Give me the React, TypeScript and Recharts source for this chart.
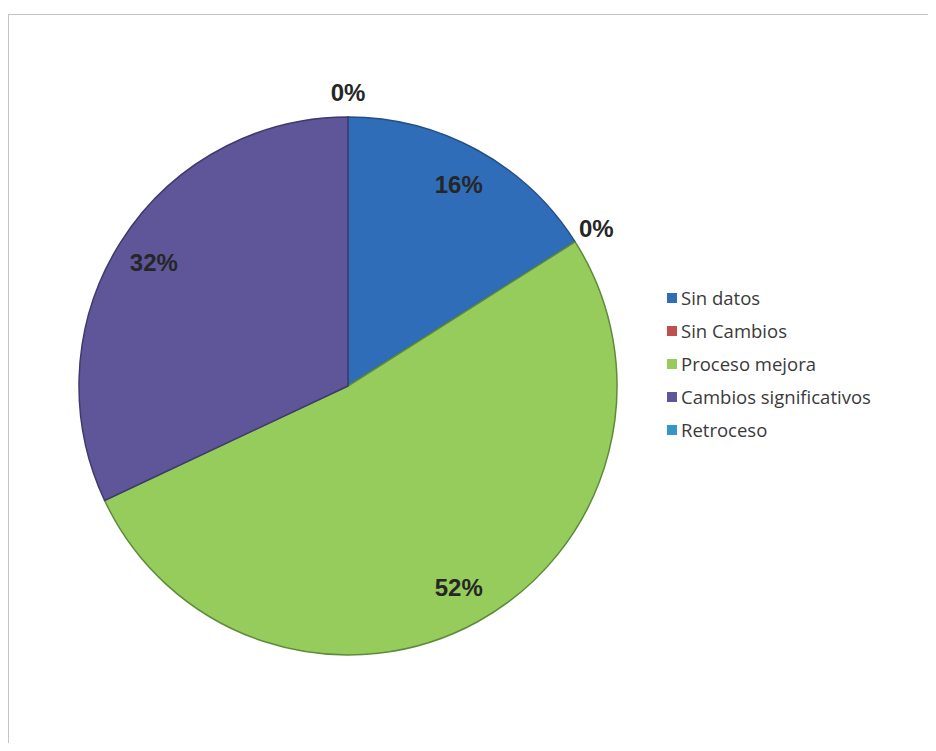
import React from "react";
import { PieChart, Pie, Cell, Legend } from "recharts";

const categories = [
  "Sin datos",
  "Sin Cambios",
  "Proceso mejora",
  "Cambios significativos",
  "Retroceso",
];
const counts = [4, 0, 13, 8, 0];
const COLORS = ["#2f6db8", "#c0504d", "#95cc5c", "#5e5699", "#3597c4"];
const STROKES = ["#244f85", "#8c3431", "#5f8a3a", "#3f3a6e", "#256c8e"];

const pieData = categories.map((name, i) => ({ name, value: counts[i] }));

const RADIAN = Math.PI / 180;

const renderLabel = (props: any) => {
  const { cx, cy, midAngle, outerRadius, percent, value } = props;
  const r = value === 0 ? outerRadius + 25 : outerRadius * 0.855;
  const x = cx + r * Math.cos(-midAngle * RADIAN);
  const y = cy + r * Math.sin(-midAngle * RADIAN);
  return (
    <text
      x={x}
      y={y}
      fill="#262626"
      textAnchor="middle"
      dominantBaseline="central"
      fontFamily="'Liberation Sans', Arial, sans-serif"
      fontWeight="bold"
      fontSize={24}
    >
      {`${Math.round(percent * 100)}%`}
    </text>
  );
};

const renderLegend = (props: any) => {
  // keep the legend in the data order
  const payload = [...(props.payload || [])].sort(
    (a: any, b: any) => categories.indexOf(a.value) - categories.indexOf(b.value)
  );
  return (
    <ul style={{ listStyle: "none", margin: 0, padding: 0 }}>
      {payload.map((entry: any, index: number) => (
        <li
          key={`item-${index}`}
          style={{
            display: "flex",
            alignItems: "center",
            height: 33,
            fontFamily: "'Open Sans', sans-serif",
            fontSize: 18.5,
            color: "#3a3a3a",
          }}
        >
          <span
            style={{
              display: "inline-block",
              width: 10,
              height: 10,
              background: entry.color,
              marginRight: 4,
            }}
          />
          {entry.value}
        </li>
      ))}
    </ul>
  );
};

const App: React.FC = () => {
  return (
    <div
      style={{
        marginTop: 6,
        width: 920,
        height: 728,
        borderTop: "1px solid #c4c4c4",
        borderLeft: "1px solid #c4c4c4",
        background: "#fff",
      }}
    >
      <PieChart width={919} height={727}>
        <Pie
          data={pieData}
          dataKey="value"
          nameKey="name"
          cx={334}
          cy={366}
          outerRadius={269}
          startAngle={90}
          endAngle={-270}
          label={renderLabel}
          labelLine={false}
          isAnimationActive={false}
        >
          {pieData.map((entry, index) => (
            <Cell
              key={`cell-${index}`}
              fill={COLORS[index % COLORS.length]}
              stroke={STROKES[index % STROKES.length]}
              strokeWidth={1.5}
            />
          ))}
        </Pie>
        <Legend
          layout="vertical"
          align="right"
          verticalAlign="top"
          content={renderLegend}
          wrapperStyle={{ left: 658, top: 266, width: 250 }}
        />
      </PieChart>
    </div>
  );
};

export default App;
